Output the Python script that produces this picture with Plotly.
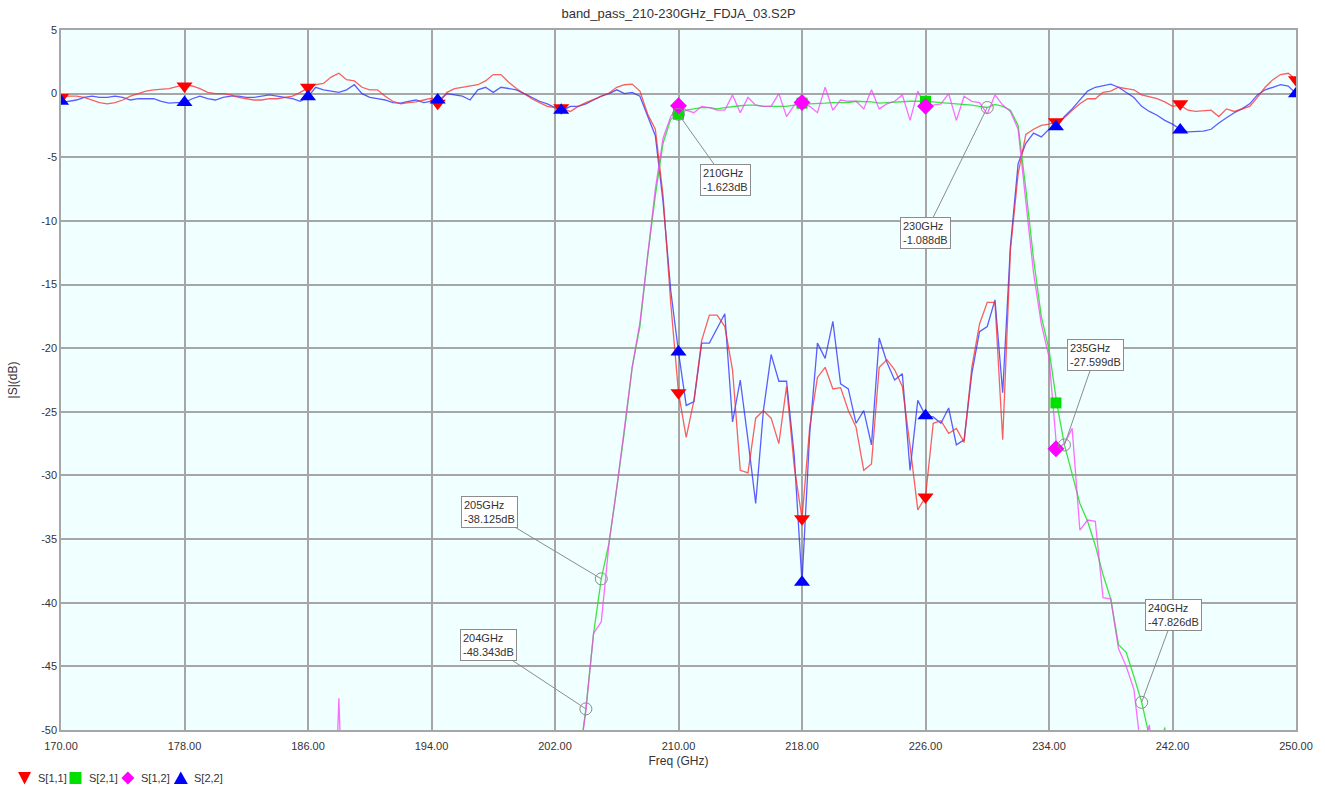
import plotly.graph_objects as go

# ---------------- data ----------------
freq = [170 + 0.5 * i for i in range(161)]  # GHz sample points, 0.5 GHz step

s11 = [
    -0.2, -0.2, -0.2, -0.3, -0.5, -0.7, -0.8, -0.7, -0.5, -0.2,
    0.0, 0.2, 0.3, 0.35, 0.4, 0.55, 0.7, 0.6, 0.4, 0.1,
    0.0, 0.0, -0.1, -0.3, -0.4, -0.5, -0.5, -0.4, -0.4, -0.3,
    -0.2, 0.1, 0.45, 0.7, 0.8, 1.3, 1.6, 1.1, 1.0, 0.5,
    0.3, 0.3, -0.2, -0.6, -0.8, -0.7, -0.65, -0.5, -0.35, -0.7,
    0.1, 0.4, 0.5, 0.6, 0.7, 1.0, 1.5, 1.5, 0.9, 0.4,
    0.0, -0.4, -0.7, -1.0, -1.1, -1.2, -1.4, -1.0, -0.7, -0.45,
    -0.2, 0.05, 0.5, 0.7, 0.75, 0.2, -1.6, -2.8, -8.0, -16.5,
    -23.5, -27.0, -24.1, -19.4, -17.4, -17.4, -18.3, -21.7, -29.6, -29.8,
    -25.5, -24.9, -25.5, -27.5, -23.0, -29.3, -33.4, -26.2, -22.3, -21.5,
    -23.2, -23.1, -24.9, -26.2, -29.6, -29.1, -21.5, -20.9, -21.7, -23.0,
    -27.7, -32.7, -31.7, -25.9, -25.7, -26.7, -26.3, -27.4, -21.5, -18.1,
    -16.4, -16.4, -27.2, -12.3, -6.3, -3.2, -2.8, -2.5, -2.4, -2.2,
    -1.9, -1.3, -0.8, -0.4, -0.4, 0.1, 0.2, 0.5, 0.4, 0.3,
    -0.1, -0.25, -0.4, -0.65, -1.0, -0.9, -1.3, -1.4, -1.35, -1.3,
    -1.8, -1.2, -1.4, -1.2, -1.0, -0.3, 0.5, 1.1, 1.5, 1.6,
    1.1,
]

s22 = [
    -0.7, -0.6, -0.5, -0.3, -0.2, -0.3, -0.3, -0.2, -0.3, -0.5,
    -0.4, -0.4, -0.4, -0.6, -0.75, -0.7, -0.7, -0.4, -0.2, -0.4,
    -0.5, -0.3, -0.2, -0.2, -0.3, -0.3, -0.2, -0.1, -0.2, -0.3,
    -0.4, -0.6, -0.25, 0.5, 0.3, 0.2, 0.1, 0.3, 0.7, 0.0,
    -0.3, -0.4, -0.5, -0.7, -0.75, -0.6, -0.5, -0.7, -0.6, -0.5,
    0.0, -0.1, -0.2, -0.5, 0.3, 0.5, 0.1, 0.5, 0.4, 0.3,
    0.0, -0.3, -0.6, -0.8, -1.1, -1.3, -1.0, -1.0, -0.8, -0.5,
    -0.2, 0.0, 0.3, 0.0, 0.1, -0.2, -1.8, -3.3, -8.5, -15.5,
    -20.3, -24.5, -24.2, -19.6, -19.6, -18.5, -17.3, -25.8, -22.5, -27.2,
    -32.2, -24.9, -20.5, -22.6, -22.6, -28.5, -38.4, -26.7, -19.6, -20.8,
    -17.9, -22.8, -23.2, -25.9, -24.9, -27.6, -19.2, -21.1, -22.5, -22.0,
    -29.6, -24.1, -25.3, -25.4, -25.9, -24.7, -27.6, -27.2, -22.0, -18.7,
    -18.3, -16.2, -23.5, -12.0, -5.5, -3.9, -3.1, -3.4, -2.8, -2.6,
    -1.8, -1.2, -0.5, 0.2, 0.5, 0.65, 0.75, 0.5, 0.1, -0.3,
    -1.0, -1.4, -1.7, -2.1, -2.4, -2.8, -3.0, -3.0, -2.95, -2.8,
    -2.3, -1.9, -1.5, -1.2, -0.8, -0.1, 0.3, 0.5, 0.7, 0.6,
    0.0,
]

s21 = [
    -62, -64, -61, -63, -65, -62, -60, -63, -64, -61,
    -63, -62, -65, -61, -60, -63, -62, -64, -61, -63,
    -60, -62, -64, -61, -63, -62, -65, -60, -62, -63,
    -61, -64, -62, -60, -63, -61, -62, -64, -60, -62,
    -63, -61, -60, -62, -64, -61, -63, -60, -62, -61,
    -60, -62, -59, -61, -60, -58, -59, -57, -58, -56,
    -57, -56, -55, -56, -54, -55, -54, -53, -48.3, -42.4,
    -38.1, -35.3, -31.0, -26.5, -21.5, -18.3, -12.8, -8.0, -3.9, -2.0,
    -1.62, -1.3, -1.2, -1.1, -1.1, -1.2, -1.1, -1.0, -0.95, -0.9,
    -0.9, -1.0, -1.0, -1.0, -1.0, -0.9, -0.75, -0.8, -0.8, -0.75,
    -0.7, -0.7, -0.7, -0.6, -0.6, -0.65, -0.75, -0.7, -0.65, -0.6,
    -0.6, -0.6, -0.6, -0.65, -0.7, -0.75, -0.8, -0.8, -0.9, -1.0,
    -1.09, -0.85, -1.0, -1.3, -2.5, -7.5, -13.0, -17.5, -20.1, -24.3,
    -27.6, -29.9, -32.2, -33.6, -35.5, -37.8, -39.7, -43.3, -43.9, -45.8,
    -47.8, -50.5, -53, -49.8, -56, -55, -57, -56, -58, -57,
    -59, -58, -60, -59, -61, -60, -62, -61, -60, -62,
    -61,
]

s12 = [
    -63, -61, -64, -62, -60, -63, -65, -61, -62, -64,
    -61, -63, -62, -60, -64, -62, -61, -63, -65, -62,
    -62, -60, -63, -61, -64, -62, -61, -60, -63, -62,
    -64, -61, -62, -63, -66, -65, -47.5, -66, -63, -61,
    -62, -60, -63, -61, -62, -64, -60, -61, -63, -60,
    -61, -59, -60, -62, -58, -59, -57, -58, -57, -56,
    -58, -55, -56, -54, -55, -56, -53, -53, -48.5, -42.4,
    -41.5, -35.3, -31.0, -26.3, -21.5, -18.0, -12.5, -7.5, -3.5, -1.8,
    -0.95, -1.3, -1.5, -1.0, -1.1, -1.3, -1.3, -0.1, -1.5, -0.3,
    -0.9, -1.0, -1.0, 0.0, -1.8, -0.9, -0.7, -1.0, -1.5, 0.5,
    -1.3, -0.5, -0.6, -0.6, -1.2, 0.3, -1.2, -0.8, -0.6, -0.1,
    -2.1, 0.2, -1.0, -0.9, -0.8, 0.0, -2.1, -0.2, -0.6, -0.7,
    -1.6, -0.1, -0.9, -1.4, -2.8, -8.5, -14.1, -18.1, -20.7, -27.9,
    -27.5, -26.3, -34.3, -33.5, -33.6, -39.6, -39.7, -43.6, -45.0, -46.8,
    -52, -49.6, -55, -57, -56, -58, -57, -59, -58, -60,
    -59, -61, -60, -62, -61, -63, -60, -62, -61, -63,
    -62,
]

# trace markers (symbol positions along each trace)
mk_freq = [170, 178, 186, 194.4, 202.4, 210, 218, 226, 234.45, 242.5, 250]
s11_mk = [-0.3, 0.6, 0.5, -0.75, -1.1, -23.5, -33.4, -31.7, -2.2, -0.8, 1.1]
s22_mk = [-0.6, -0.7, -0.25, -0.5, -1.3, -20.3, -38.4, -25.3, -2.6, -2.85, 0.0]
mk_freq_band = [210, 218, 226, 234.45]
s21_mk = [-1.62, -0.75, -0.6, -24.3]
s12_mk = [-0.95, -0.7, -1.0, -27.9]

# readout annotations
ann_freq = [204, 205, 210, 230, 235, 240]
ann_db = [-48.343, -38.125, -1.623, -1.088, -27.599, -47.826]

x_tick_vals = [170, 178, 186, 194, 202, 210, 218, 226, 234, 242, 250]
x_tick_text = ["170.00", "178.00", "186.00", "194.00", "202.00", "210.00",
               "218.00", "226.00", "234.00", "242.00", "250.00"]
y_tick_vals = [5, 0, -5, -10, -15, -20, -25, -30, -35, -40, -45, -50]
y_tick_text = ["5", "0", "-5", "-10", "-15", "-20", "-25", "-30", "-35",
               "-40", "-45", "-50"]

names = ["S[1,1]", "S[2,1]", "S[1,2]", "S[2,2]"]
# ---------------------------------------

FONT = "Liberation Sans, Arial, sans-serif"
TXT = "#333333"
RED, GREEN, MAG, BLUE = "#ff0000", "#00e000", "#ff00ff", "#0000ff"

# page geometry (pixels)
FIG_W, FIG_H = 1325, 787
PL, PR, PT, PB = 60, 1297, 30, 730


def paper(px, py):
    return (px - PL) / (PR - PL), (PB - py) / (PB - PT)


fig = go.Figure()

line_specs = [
    (s22, "rgba(40,40,255,0.75)", names[3]),
    (s11, "rgba(255,40,40,0.75)", names[0]),
    (s21, "rgba(30,225,30,0.85)", names[1]),
    (s12, "rgba(255,60,255,0.75)", names[2]),
]
for ys, col, nm in line_specs:
    fig.add_trace(go.Scatter(x=freq, y=ys, mode="lines", name=nm,
                             line=dict(color=col, width=1.3),
                             showlegend=False, hoverinfo="x+y+name"))

marker_specs = [
    (mk_freq, s11_mk, RED, "triangle-down", 14, names[0]),
    (mk_freq_band, s21_mk, GREEN, "square", 11, names[1]),
    (mk_freq_band, s12_mk, MAG, "diamond", 13, names[2]),
    (mk_freq, s22_mk, BLUE, "triangle-up", 14, names[3]),
]
for xs, ys, col, sym, sz, nm in marker_specs:
    fig.add_trace(go.Scatter(x=xs, y=ys, mode="markers", name=nm,
                             marker=dict(color=col, symbol=sym, size=sz,
                                         line=dict(width=0)),
                             showlegend=False))

# readout circles
fig.add_trace(go.Scatter(x=ann_freq, y=ann_db, mode="markers",
                         marker=dict(symbol="circle-open", size=12,
                                     color="#8c8c8c", line=dict(width=1)),
                         showlegend=False, hoverinfo="skip"))

offsets = [(-97, -64), (-112, -67), (47, 66), (-62, 126), (31, -90), (32, -87)]
for f, v, (ax, ay) in zip(ann_freq, ann_db, offsets):
    fig.add_annotation(x=f, y=v, xref="x", yref="y",
                       text=f"{f}GHz<br>{v:.3f}dB", align="left",
                       showarrow=True, arrowhead=0, arrowwidth=1,
                       arrowcolor="#8c8c8c", ax=ax, ay=ay,
                       axref="pixel", ayref="pixel",
                       bgcolor="white", bordercolor="#8c8c8c",
                       borderwidth=1, borderpad=2,
                       font=dict(family=FONT, size=11, color=TXT))

# legend: icon shapes + names (below the plot, left)
LEG_Y = 778
icon_pts = {
    "tri_down": [(-6.5, -6), (6.5, -6), (0, 6.5)],
    "square": [(-6, -6), (6, -6), (6, 6), (-6, 6)],
    "diamond": [(0, -6.5), (6.5, 0), (0, 6.5), (-6.5, 0)],
    "tri_up": [(-7, 6), (7, 6), (0, -6.5)],
}
leg_items = [(23.5, "tri_down", RED, 35, names[0]),
             (74.5, "square", GREEN, 86, names[1]),
             (127, "diamond", MAG, 138, names[2]),
             (180, "tri_up", BLUE, 191, names[3])]
for cx, kind, col, tx, nm in leg_items:
    pts = [paper(cx + dx, LEG_Y + dy) for dx, dy in icon_pts[kind]]
    path = "M " + " L ".join(f"{x:.5f},{y:.5f}" for x, y in pts) + " Z"
    fig.add_shape(type="path", path=path, xref="paper", yref="paper",
                  fillcolor=col, line=dict(width=0), layer="above")
    lx, ly = paper(tx, LEG_Y)
    fig.add_annotation(x=lx, y=ly, xref="paper", yref="paper",
                       xanchor="left", yanchor="middle", showarrow=False,
                       text=nm, font=dict(family=FONT, size=11, color=TXT))

axis_common = dict(showgrid=True, gridcolor="#a6a6a6", gridwidth=1.5,
                   showline=True, linecolor="#a6a6a6", linewidth=1.5,
                   mirror=True, zeroline=False, ticks="",
                   tickfont=dict(family=FONT, size=11, color=TXT))

fig.update_layout(
    width=FIG_W, height=FIG_H,
    margin=dict(l=PL, r=FIG_W - PR, t=PT, b=FIG_H - PB),
    paper_bgcolor="white", plot_bgcolor="#f0ffff",
    title=dict(text="band_pass_210-230GHz_FDJA_03.S2P", x=0.5, xref="paper",
               y=1 - 13 / FIG_H, yref="container", xanchor="center",
               yanchor="middle",
               font=dict(family=FONT, size=13, color=TXT)),
    xaxis=dict(range=[170, 250], tickvals=x_tick_vals, ticktext=x_tick_text,
               ticklabelstandoff=5,
               title=dict(text="Freq (GHz)", standoff=6,
                          font=dict(family=FONT, size=12, color=TXT)),
               **axis_common),
    yaxis=dict(range=[-50, 5], tickvals=y_tick_vals, ticktext=y_tick_text,
               title=dict(text="|S|(dB)", standoff=21,
                          font=dict(family=FONT, size=12, color=TXT)),
               **axis_common),
    showlegend=False,
)

fig.write_html("out.html",
               config={"displayModeBar": False},
               post_script="document.body.style.margin='0';"
                           "document.body.style.overflow='hidden';")
